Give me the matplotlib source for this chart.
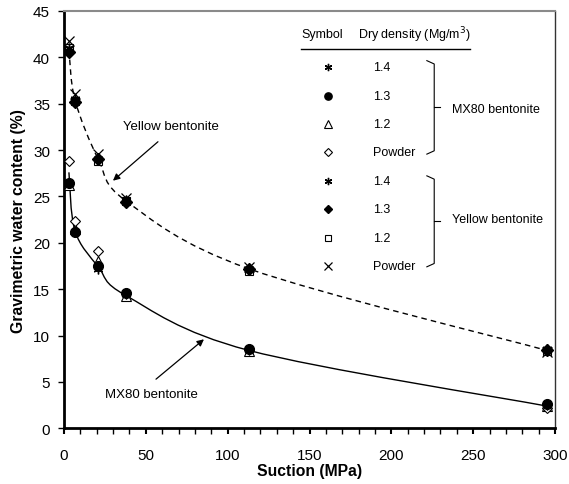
import matplotlib
matplotlib.use('Agg')
import matplotlib.pyplot as plt
from matplotlib.path import Path
from matplotlib.patches import PathPatch
import numpy as np

# DATA --------------------------------------------------------------------------
suction = [3, 6.7, 21, 38, 113, 295]          # MPa

# MX80 bentonite
mx80_14 = [26.5, 21.2, 17.2, 14.5, 8.4, 2.5]
mx80_13 = [26.5, 21.2, 17.5, 14.6, 8.5, 2.6]
mx80_12 = [26.2, 21.5, 18.0, 14.3, 8.3, 2.4]
mx80_pw = [28.8, 22.4, 19.1, 14.6, 8.6, 2.2]

# Yellow bentonite
yel_14 = [41.0, 35.5, 29.0, 24.6, 17.2, 8.5]
yel_13 = [40.6, 35.2, 29.0, 24.4, 17.2, 8.4]
yel_12 = [41.0, 35.3, 28.8, 24.5, 17.0, 8.3]
yel_pw = [41.8, 36.0, 29.6, 24.8, 17.4, 8.2]

# smoothed curves (Excel style smooth line through these nodes)
mx80_curve = [27.6, 21.3, 17.4, 14.3, 8.4, 2.4]
yel_curve = [40.8, 35.4, 29.0, 24.5, 17.2, 8.4]

legend_labels = ['1.4', '1.3', '1.2', 'Powder', '1.4', '1.3', '1.2', 'Powder']

# STYLES --------------------------------------------------------------------------
plt.rcParams['font.family'] = ['Liberation Sans', 'DejaVu Sans']

asterisk = dict(marker=(6, 2, 0), color='black', ms=7, mew=1.0, ls='none')
circle = dict(marker='o', color='black', ms=7, ls='none')
triangle = dict(marker='^', mfc='white', mec='black', ms=7, mew=0.8, ls='none')
diamond_open = dict(marker='D', mfc='white', mec='black', ms=5, mew=0.8, ls='none')
diamond_fill = dict(marker='D', color='black', ms=6, ls='none')
square = dict(marker='s', mfc='white', mec='black', ms=6, mew=0.8, ls='none')
cross = dict(marker='x', color='black', ms=7, mew=0.9, ls='none')

styles = [asterisk, circle, triangle, diamond_open,
          asterisk, diamond_fill, square, cross]
series = [mx80_14, mx80_13, mx80_12, mx80_pw,
          yel_14, yel_13, yel_12, yel_pw]
# open symbols go underneath the filled ones
zorders = [4, 5, 3, 3, 4, 5, 3, 4]


def smooth_path(x, y):
    """Catmull-Rom style cubic Bezier through the nodes (like Excel smooth lines)."""
    pts = np.column_stack([x, y]).astype(float)
    ext = np.vstack([pts[0], pts, pts[-1]])
    verts = [pts[0]]
    codes = [Path.MOVETO]
    for i in range(len(pts) - 1):
        p0, p1, p2, p3 = ext[i], ext[i + 1], ext[i + 2], ext[i + 3]
        c1 = p1 + (p2 - p0) / 6.0
        c2 = p2 - (p3 - p1) / 6.0
        verts += [c1, c2, p2]
        codes += [Path.CURVE4] * 3
    return Path(verts, codes)


# FIGURE ------------------------------------------------------------------------
fig = plt.figure(figsize=(5.69, 4.85), dpi=100)
ax = fig.add_axes([0.1125, 0.1148, 0.8629, 0.8605])

ax.add_patch(PathPatch(smooth_path(suction, mx80_curve), fill=False,
                       lw=1.0, color='black', zorder=2))
ax.add_patch(PathPatch(smooth_path(suction, yel_curve), fill=False,
                       lw=1.0, color='black', ls=(0, (4, 3)), zorder=2))

for vals, st, z in zip(series, styles, zorders):
    ax.plot(suction, vals, zorder=z, **st)

ax.set_xlim(0, 300)
ax.set_ylim(0, 45)
ax.set_xticks(np.arange(0, 301, 50))
ax.set_xticks(np.arange(0, 301, 10), minor=True)
ax.set_yticks(np.arange(0, 46, 5))

ax.tick_params(axis='x', which='major', direction='out', length=4, width=1.5,
               pad=10, labelsize=11)
ax.tick_params(axis='x', which='minor', direction='out', length=4, width=1.0)
ax.tick_params(axis='y', which='major', direction='out', length=4, width=1.0,
               pad=6, labelsize=11)

ax.spines['left'].set_linewidth(2.0)
ax.spines['bottom'].set_linewidth(2.0)
ax.spines['top'].set_color('#8a8a8a')
ax.spines['top'].set_linewidth(1.5)
ax.spines['right'].set_color('#333333')
ax.spines['right'].set_linewidth(1.0)

ax.set_xlabel('Suction (MPa)', fontsize=11.3, fontweight='bold', labelpad=1)
ax.set_ylabel('Gravimetric water content (%)', fontsize=11.3, fontweight='bold',
              labelpad=5)

# ANNOTATIONS -------------------------------------------------------------------
ax.annotate('', xy=(29.9, 26.7), xytext=(57.4, 30.9),
            arrowprops=dict(arrowstyle='-|>', color='black', lw=0.9,
                            mutation_scale=10, shrinkA=0, shrinkB=0))
ax.text(36, 32.6, 'Yellow bentonite', fontsize=9.5, va='center', ha='left')

ax.annotate('', xy=(85.5, 9.6), xytext=(56.2, 5.3),
            arrowprops=dict(arrowstyle='-|>', color='black', lw=0.9,
                            mutation_scale=10, shrinkA=0, shrinkB=0))
ax.text(25, 3.7, 'MX80 bentonite', fontsize=9.5, va='center', ha='left')

# LEGEND TABLE ------------------------------------------------------------------
tr = ax.transAxes
ax.text(0.525, 0.945, 'Symbol', transform=tr, fontsize=9, ha='center', va='center')
ax.text(0.599, 0.945, 'Dry density (Mg/m$^3$)', transform=tr, fontsize=9,
        ha='left', va='center')
ax.plot([0.483, 0.827], [0.909, 0.909], transform=tr, color='black', lw=1.0,
        clip_on=False)

row_y = [0.865, 0.797, 0.729, 0.661, 0.593, 0.525, 0.457, 0.389]
for yy, lab, st in zip(row_y, legend_labels, styles):
    small = dict(st)
    small['ms'] = st['ms'] * 0.75
    ax.plot([0.538], [yy], transform=tr, clip_on=False, **small)
    ax.text(0.629, yy, lab, transform=tr, fontsize=9, ha='left', va='center')

# brackets
for top, bot, mid, name in [(0.881, 0.657, 0.770, 'MX80 bentonite'),
                            (0.605, 0.387, 0.496, 'Yellow bentonite')]:
    ax.plot([0.739, 0.754, 0.754, 0.739], [top, top - 0.008, bot + 0.008, bot],
            transform=tr, color='black', lw=0.8, clip_on=False)
    ax.plot([0.754, 0.766], [mid, mid], transform=tr, color='black', lw=0.8,
            clip_on=False)
    ax.text(0.790, mid - 0.006 if name.startswith('MX') else mid + 0.006, name,
            transform=tr, fontsize=9, ha='left', va='center')

fig.savefig('out.png', dpi=100)
